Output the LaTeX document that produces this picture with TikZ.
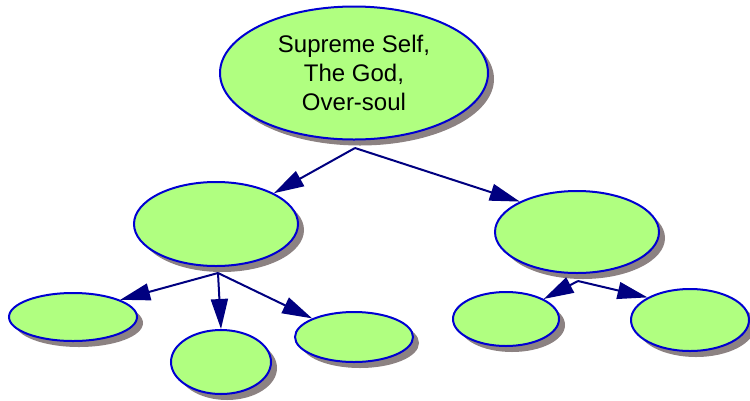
\documentclass[tikz,border=0pt]{standalone}
\usepackage{fontspec}
\setmainfont{Liberation Sans}
\usetikzlibrary{shapes.geometric,shadows,arrows.meta}
\definecolor{nodefill}{RGB}{176,255,128}
\definecolor{nodeborder}{RGB}{0,0,210}
\definecolor{linkcol}{RGB}{0,0,128}
\definecolor{shadowcol}{RGB}{140,130,130}
\begin{document}
\begin{tikzpicture}[x=1pt,y=-1pt,
  bubble/.style={ellipse, draw=nodeborder, line width=2pt, fill=nodefill, inner sep=0pt,
    drop shadow={shadow xshift=6pt, shadow yshift=-6pt, fill=shadowcol, opacity=1}},
  link/.style={draw=linkcol, line width=2pt, -{Triangle[length=30pt,width=17pt]}}]
\useasboundingbox (0,0) rectangle (750,400);
\node[bubble, minimum width=268pt, minimum height=133pt, align=center,
  font=\fontsize{24}{29}\selectfont] (top) at (354,73) {Supreme Self,\\The God,\\Over-soul};
\node[bubble, minimum width=164pt, minimum height=84pt] (L) at (216,224) {};
\node[bubble, minimum width=164pt, minimum height=82pt] (R) at (577,232) {};
\node[bubble, minimum width=128pt, minimum height=48pt] (a) at (73,317) {};
\node[bubble, minimum width=100pt, minimum height=64pt] (b) at (221,362) {};
\node[bubble, minimum width=118pt, minimum height=50pt] (c) at (354,337) {};
\node[bubble, minimum width=106pt, minimum height=54pt] (d) at (506,319) {};
\node[bubble, minimum width=118pt, minimum height=62pt] (e) at (690,320) {};
\coordinate (bt) at (355,148);
\coordinate (bl) at (218,273);
\coordinate (br) at (578,281);
\draw[link] (bt) -- (L.28);
\draw[link] (bt) -- (R.152);
\draw[link] (bl) -- (a.20);
\draw[link] (bl) -- (b.north);
\draw[link] (bl) -- (c.156);
\draw[link] (br) -- (d.28);
\draw[link] (br) -- (e.152);
\end{tikzpicture}
\end{document}
